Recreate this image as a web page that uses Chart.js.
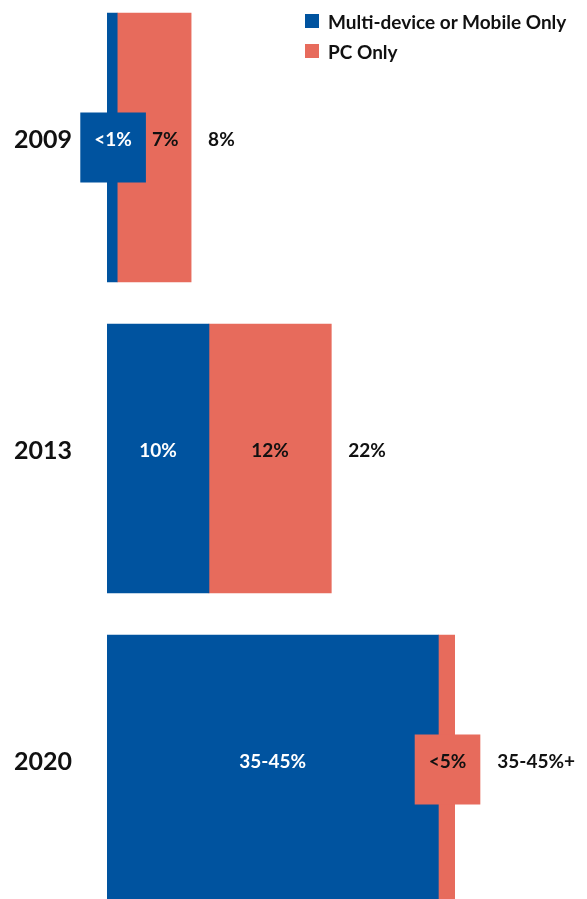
<!DOCTYPE html>
<html>
<head>
<meta charset="utf-8">
<script src="https://cdn.jsdelivr.net/npm/chart.js@4.4.1/dist/chart.umd.min.js"></script>
<style>
  html, body { margin: 0; padding: 0; background: #fff; overflow: hidden; }
  #wrap { position: relative; width: 587px; height: 899px; overflow: hidden; }
  #c { position: absolute; left: 0; top: -8px; width: 587px; height: 933px; }
  #legend { position: absolute; left: 305px; top: 11px; font-family: Lato, "Open Sans", sans-serif; font-weight: 700; font-size: 19px; color: #111; }
  .li { display: flex; align-items: center; height: 20px; margin-bottom: 10px; }
  .sw { width: 14px; height: 14px; margin-right: 9px; }
</style>
</head>
<body>
<div id="wrap">
  <canvas id="c" width="587" height="933"></canvas>
  <div id="legend"></div>
</div>
<script>
// ---- data ----
const years = ['2009', '2013', '2020'];
const seriesNames = ['Multi-device or Mobile Only', 'PC Only'];
const multiDevice = [1.0, 10, 32.5];
const pcOnly = [7.25, 12, 1.6];
const multiLabels = ['<1%', '10%', '35-45%'];
const pcLabels = ['7%', '12%', '<5%'];
const totalLabels = ['8%', '22%', '35-45%+'];
const colors = ['#00539F', '#E76B5C'];

// ---- legend (HTML) ----
const legend = document.getElementById('legend');
seriesNames.forEach((n, i) => {
  const d = document.createElement('div');
  d.className = 'li';
  d.innerHTML = '<span class="sw" style="background:' + colors[i] + '"></span><span>' + n + '</span>';
  legend.appendChild(d);
});

const FONT = 'Lato, "Open Sans", sans-serif';
const labelSets = [multiLabels, pcLabels];
const textColors = ['#ffffff', '#111111'];

const labelPlugin = {
  id: 'valueLabels',
  afterDatasetsDraw(chart) {
    const ctx = chart.ctx;
    ctx.save();
    ctx.font = '700 19px ' + FONT;
    ctx.textBaseline = 'middle';
    const dy = -8;
    years.forEach((y, i) => {
      let boxRight = null;
      let maxRight = 0;
      chart.data.datasets.forEach((ds, di) => {
        const bar = chart.getDatasetMeta(di).data[i];
        const left = Math.min(bar.base, bar.x), right = Math.max(bar.base, bar.x);
        maxRight = Math.max(maxRight, right);
        const w = right - left;
        const txt = labelSets[di][i];
        const tw = ctx.measureText(txt).width;
        const cx = (left + right) / 2;
        if (w < tw + 10) {
          const bw = tw + 28, bh = 70;
          const bx = cx - bw / 2 + 1;
          ctx.fillStyle = colors[di];
          ctx.fillRect(bx, bar.y - bh / 2, bw, bh);
          ctx.fillStyle = textColors[di];
          ctx.textAlign = 'center';
          ctx.fillText(txt, bx + bw / 2, bar.y + dy);
          boxRight = bx + bw;
          maxRight = Math.max(maxRight, boxRight);
        } else {
          ctx.fillStyle = textColors[di];
          if (boxRight !== null && cx - tw / 2 < boxRight + 6) {
            ctx.textAlign = 'left';
            ctx.fillText(txt, boxRight + 6, bar.y + dy);
          } else {
            ctx.textAlign = 'center';
            ctx.fillText(txt, cx, bar.y + dy);
          }
        }
      });
      const y0 = chart.getDatasetMeta(0).data[i].y;
      ctx.fillStyle = '#111111';
      ctx.textAlign = 'left';
      ctx.fillText(totalLabels[i], maxRight + 17, y0 + dy);
    });
    ctx.restore();
  }
};

new Chart(document.getElementById('c'), {
  type: 'bar',
  data: {
    labels: years,
    datasets: [
      { label: seriesNames[0], data: multiDevice, backgroundColor: colors[0], borderWidth: 0, barThickness: 269 },
      { label: seriesNames[1], data: pcOnly, backgroundColor: colors[1], borderWidth: 0, barThickness: 269 }
    ]
  },
  options: {
    indexAxis: 'y',
    responsive: false,
    animation: false,
    devicePixelRatio: 1,
    layout: { padding: { left: 14, right: 11, top: 0, bottom: 0 } },
    plugins: { legend: { display: false }, tooltip: { enabled: false } },
    scales: {
      x: { stacked: true, min: 0, max: 46, display: false },
      y: {
        stacked: true,
        grid: { display: false },
        border: { display: false },
        afterFit(scale) { scale.width = 93; scale.paddingTop = 0; scale.paddingBottom = 0; },
        ticks: {
          crossAlign: 'far',
          color: '#111',
          font: { family: FONT, size: 25, weight: '700', lineHeight: '16px' },
          callback: (v, i) => [years[i], '']
        }
      }
    }
  },
  plugins: [labelPlugin]
});
</script>
</body>
</html>
